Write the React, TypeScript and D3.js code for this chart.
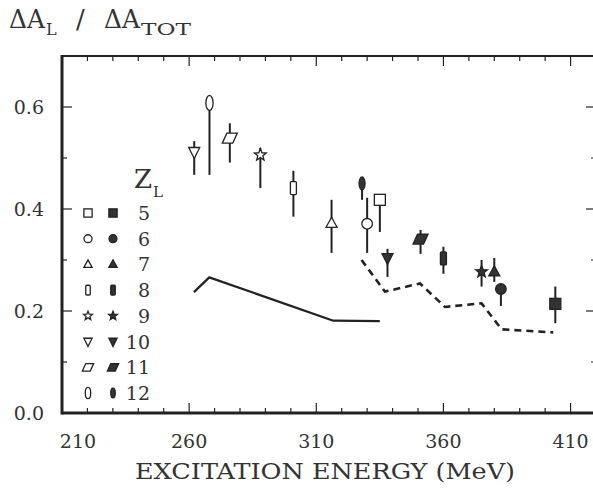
import React from "react";
import * as d3 from "d3";

// ---- data ----
const legendZ = [5, 6, 7, 8, 9, 10, 11, 12];
const pointZ = [10, 12, 11, 9, 8, 7, 12, 6, 5, 10, 11, 8, 9, 7, 6, 5];
const pointFilled = [false, false, false, false, false, false, true, false, false, true, true, true, true, true, true, true];
const pointEnergy = [262, 268, 276, 288, 301, 316, 328, 330, 335, 338, 351, 360, 375, 380, 382.6, 404];
const pointRatio = [0.512, 0.608, 0.539, 0.506, 0.441, 0.372, 0.45, 0.371, 0.418, 0.304, 0.341, 0.303, 0.277, 0.277, 0.243, 0.214];
const pointLow = [0.467, 0.467, 0.491, 0.441, 0.385, 0.314, 0.418, 0.314, 0.355, 0.267, 0.312, 0.273, 0.248, 0.257, 0.21, 0.176];
const pointHigh = [0.533, 0.608, 0.568, 0.52, 0.475, 0.418, 0.45, 0.422, 0.418, 0.322, 0.359, 0.326, 0.3, 0.304, 0.243, 0.248];

const solidE = [261.9, 267.9, 316.7, 335.0];
const solidR = [0.237, 0.266, 0.181, 0.18];
const dashedE = [327.8, 337.0, 350.8, 360.6, 375.0, 382.9, 403.2];
const dashedR = [0.3, 0.238, 0.254, 0.208, 0.215, 0.164, 0.158];

const xTicks = [210, 260, 310, 360, 410];
const yTicks = [0.0, 0.2, 0.4, 0.6];

const W = 593, H = 491;
const X0 = 62, X1 = 596, Y0 = 413, Y1 = 56;
const INK = "#222";
const TXT = "#333";
const FONT = "'DejaVu Serif', serif";

function Marker({ z, cx, cy, k, filled }: { z: number; cx: number; cy: number; k: number; filled: boolean }) {
  const fill = filled ? "#333" : "#fff";
  const sw = 1.3;
  const common = { fill, stroke: INK, strokeWidth: sw } as any;
  switch (z) {
    case 5: {
      const s = 11 * k;
      return <rect x={cx - s / 2} y={cy - s / 2} width={s} height={s} {...common} />;
    }
    case 6:
      return <circle cx={cx} cy={cy} r={5.3 * k} {...common} />;
    case 7: {
      const w = 11 * k, h = 10 * k;
      return <path d={`M${cx},${cy - h * 0.6}L${cx + w / 2},${cy + h * 0.4}L${cx - w / 2},${cy + h * 0.4}Z`} {...common} />;
    }
    case 8: {
      const w = 6 * k, h = 13 * k;
      return <rect x={cx - w / 2} y={cy - h / 2} width={w} height={h} rx={1} {...common} />;
    }
    case 9: {
      const ro = 6.2 * k, ri = 2.7 * k;
      const pts: string[] = [];
      for (let i = 0; i < 10; i++) {
        const a = -Math.PI / 2 + (i * Math.PI) / 5;
        const r = i % 2 === 0 ? ro : ri;
        pts.push(`${cx + r * Math.cos(a)},${cy + r * Math.sin(a)}`);
      }
      return <path d={`M${pts.join("L")}Z`} {...common} />;
    }
    case 10: {
      const w = 11 * k, h = 11 * k;
      return <path d={`M${cx - w / 2},${cy - h * 0.4}L${cx + w / 2},${cy - h * 0.4}L${cx},${cy + h * 0.6}Z`} {...common} />;
    }
    case 11: {
      const w = 15 * k, h = 10 * k, sk = 4.5 * k;
      return <path d={`M${cx - w / 2},${cy + h / 2}L${cx - w / 2 + sk},${cy - h / 2}L${cx + w / 2},${cy - h / 2}L${cx + w / 2 - sk},${cy + h / 2}Z`} {...common} />;
    }
    case 12:
      return <ellipse cx={cx} cy={cy} rx={(filled ? 3 : 3.6) * k} ry={(filled ? 6.5 : 7.5) * k} {...common} />;
  }
  return null;
}

export default function App() {
  const x = d3.scaleLinear().domain([210, 420]).range([X0, X1]);
  const y = d3.scaleLinear().domain([0, 0.7]).range([Y0, Y1]);
  const lineGen = d3.line<[number, number]>().x((d) => x(d[0])).y((d) => y(d[1]));
  const solidPath = lineGen(solidE.map((e, i) => [e, solidR[i]] as [number, number]));
  const dashedPath = lineGen(dashedE.map((e, i) => [e, dashedR[i]] as [number, number]));

  const xMinor = d3.range(210, 421, 10);
  const yMinor = d3.range(0, 0.701, 0.1);

  const legendY = d3.scaleLinear().domain([5, 12]).range([213, 393]);

  return (
    <svg width={W} height={H} style={{ position: "absolute", left: 0, top: 0, background: "#fff" }}>
      <rect x={0} y={0} width={W} height={H} fill="#fff" />
      {/* title */}
      <g fontFamily={FONT} fill={TXT}>
        <text x={9} y={28} fontSize={26} textLength={36} lengthAdjust="spacingAndGlyphs">ΔA</text>
        <text x={46} y={35} fontSize={16}>L</text>
        <text x={76} y={28} fontSize={26}>/</text>
        <text x={104} y={28} fontSize={26} textLength={36} lengthAdjust="spacingAndGlyphs">ΔA</text>
        <text x={141} y={35} fontSize={16} textLength={50} lengthAdjust="spacingAndGlyphs">TOT</text>
      </g>

      {/* minor / major ticks */}
      {xMinor.map((v) => {
        const major = (v - 210) % 50 === 0;
        const len = major ? 10 : 5;
        return (
          <g key={"xt" + v}>
            <line x1={x(v)} x2={x(v)} y1={Y0} y2={Y0 - len} stroke={INK} strokeWidth={1.2} />
            <line x1={x(v)} x2={x(v)} y1={Y1} y2={Y1 + len} stroke={INK} strokeWidth={1.2} />
          </g>
        );
      })}
      {yMinor.map((v, i) => {
        const major = i % 2 === 0;
        const len = major ? 10 : 5;
        return (
          <g key={"yt" + i}>
            <line x1={X0} x2={X0 + len} y1={y(v)} y2={y(v)} stroke={INK} strokeWidth={1.2} />
            <line x1={X1} x2={X1 - len} y1={y(v)} y2={y(v)} stroke={INK} strokeWidth={1.2} />
          </g>
        );
      })}
      {/* frame */}
      <line x1={X0} x2={X1} y1={Y1} y2={Y1} stroke={INK} strokeWidth={2} />
      <line x1={X0} x2={X1} y1={Y0} y2={Y0} stroke={INK} strokeWidth={3} />
      <line x1={X0} x2={X0} y1={Y1 - 1} y2={Y0 + 1.5} stroke={INK} strokeWidth={3} />
      <line x1={X1} x2={X1} y1={Y1} y2={Y0} stroke={INK} strokeWidth={2} />

      {/* tick labels */}
      {xTicks.map((v, i) => (
        <text key={"xl" + v} x={i === 0 ? x(v) + 16 : x(v)} y={448} textAnchor="middle" fontFamily={FONT} fontSize={19} fill={TXT}>
          {v}
        </text>
      ))}
      {yTicks.map((v) => (
        <text key={"yl" + v} x={44} y={y(v) + 7} textAnchor="end" fontFamily={FONT} fontSize={19} fill={TXT}>
          {v.toFixed(1)}
        </text>
      ))}
      <text x={325} y={479} textAnchor="middle" fontFamily={FONT} fontSize={22} fill={TXT} textLength={380} lengthAdjust="spacingAndGlyphs">
        EXCITATION ENERGY (MeV)
      </text>

      {/* curves */}
      <path d={solidPath || ""} fill="none" stroke={INK} strokeWidth={2.2} strokeLinejoin="round" />
      <path d={dashedPath || ""} fill="none" stroke={INK} strokeWidth={2.6} strokeDasharray="7 5" />

      {/* error bars and points */}
      {pointEnergy.map((e, i) => (
        <line key={"eb" + i} x1={x(e)} x2={x(e)} y1={y(pointLow[i])} y2={y(pointHigh[i])} stroke={INK} strokeWidth={2} />
      ))}
      {pointEnergy.map((e, i) => (
        <Marker key={"m" + i} z={pointZ[i]} cx={x(e)} cy={y(pointRatio[i])} k={1} filled={pointFilled[i]} />
      ))}

      {/* legend */}
      <text x={134} y={188} fontFamily={FONT} fill={TXT} fontSize={26}>
        Z<tspan fontSize={15} dy={9} dx={1}>L</tspan>
      </text>
      {legendZ.map((z) => (
        <g key={"lg" + z}>
          <Marker z={z} cx={88} cy={legendY(z)} k={0.75} filled={false} />
          <Marker z={z} cx={113} cy={legendY(z)} k={0.75} filled={true} />
          <text x={150} y={legendY(z) + 7} textAnchor="end" fontFamily={FONT} fontSize={19} fill={TXT}>
            {z}
          </text>
        </g>
      ))}
    </svg>
  );
}
